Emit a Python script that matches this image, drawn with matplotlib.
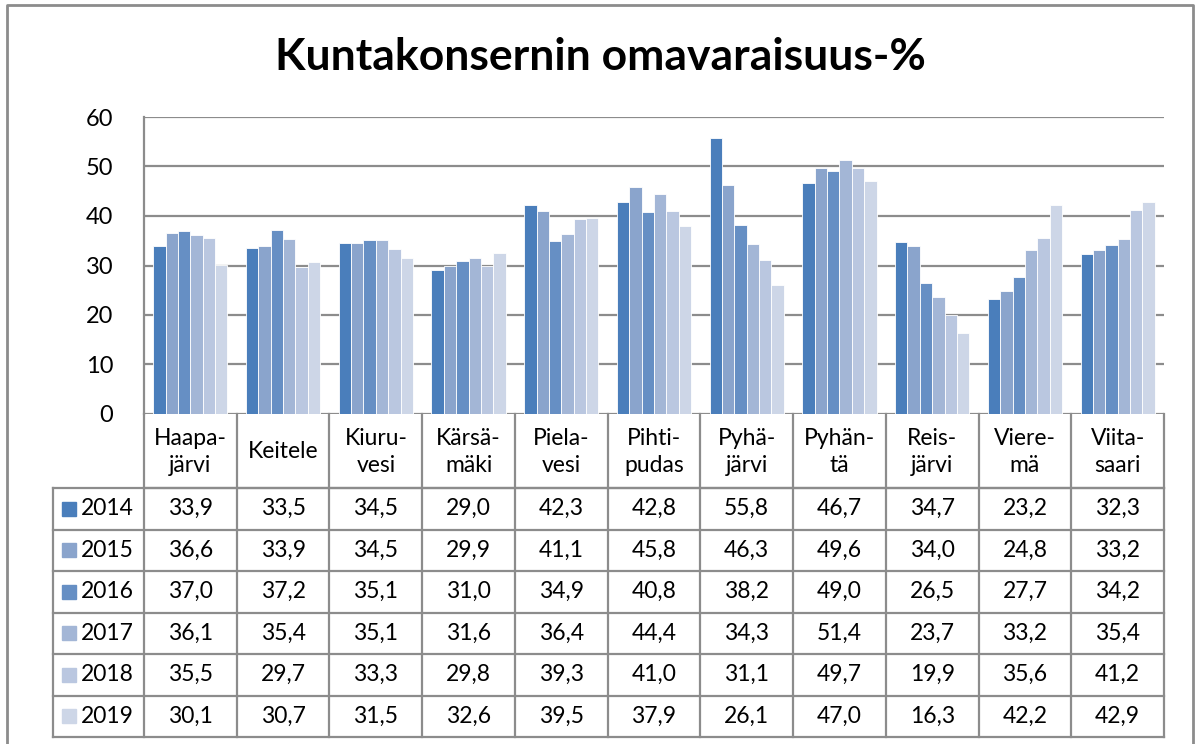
import matplotlib.pyplot as plt
import numpy as np

plt.rcParams['font.family'] = ['Lato', 'DejaVu Sans']

kunnat = ['Haapa-\njärvi', 'Keitele', 'Kiuru-\nvesi', 'Kärsä-\nmäki', 'Piela-\nvesi',
          'Pihti-\npudas', 'Pyhä-\njärvi', 'Pyhän-\ntä', 'Reis-\njärvi', 'Viere-\nmä',
          'Viita-\nsaari']
vuodet = ['2014', '2015', '2016', '2017', '2018', '2019']
v2014 = [33.9, 33.5, 34.5, 29.0, 42.3, 42.8, 55.8, 46.7, 34.7, 23.2, 32.3]
v2015 = [36.6, 33.9, 34.5, 29.9, 41.1, 45.8, 46.3, 49.6, 34.0, 24.8, 33.2]
v2016 = [37.0, 37.2, 35.1, 31.0, 34.9, 40.8, 38.2, 49.0, 26.5, 27.7, 34.2]
v2017 = [36.1, 35.4, 35.1, 31.6, 36.4, 44.4, 34.3, 51.4, 23.7, 33.2, 35.4]
v2018 = [35.5, 29.7, 33.3, 29.8, 39.3, 41.0, 31.1, 49.7, 19.9, 35.6, 41.2]
v2019 = [30.1, 30.7, 31.5, 32.6, 39.5, 37.9, 26.1, 47.0, 16.3, 42.2, 42.9]
sarjat = [v2014, v2015, v2016, v2017, v2018, v2019]
varit = ['#4a7ebb', '#8aa4cc', '#668fc4', '#a3b6d6', '#bac7e0', '#cdd6e7']

W, H = 1198, 744
line_c = '#8c8c8c'

fig = plt.figure(figsize=(W / 100, H / 100), dpi=100)

# pixel layout
x0, x1 = 144, 1164
ytop, ybot = 117, 414
hdr_bot = 488
tbl_bot = 737
tbl_left = 53

ax = fig.add_axes([x0 / W, 1 - ybot / H, (x1 - x0) / W, (ybot - ytop) / H])
n = len(kunnat)
x = np.arange(n)
bw = 0.8 / 6
for i, (vals, c) in enumerate(zip(sarjat, varit)):
    ax.bar(x + 0.1 + bw * (i + 0.5), vals, width=bw, color=c, edgecolor='white',
           linewidth=0.6, align='center', zorder=3)
ax.set_xlim(0, n)
ax.set_ylim(0, 60)
ax.set_yticks(range(0, 61, 10))
ax.set_yticklabels([str(t) for t in range(0, 61, 10)], fontsize=17)
ax.tick_params(axis='y', length=0, pad=22)
ax.set_xticks([])
ax.grid(axis='y', color=line_c, linewidth=1.6, zorder=0)
for s in ['top', 'right', 'bottom']:
    ax.spines[s].set_visible(False)
ax.spines['left'].set_color(line_c)
ax.spines['left'].set_linewidth(1.6)

# overlay in pixel coords for the data table
ov = fig.add_axes([0, 0, 1, 1])
ov.set_xlim(0, W)
ov.set_ylim(H, 0)
ov.axis('off')
ov.patch.set_alpha(0)

colw = (x1 - x0) / n
rowh = (tbl_bot - hdr_bot) / len(vuodet)
lw = 1.6
# outer chart border
ov.plot([7, 7, 1193, 1193], [H, 5, 5, H], color=line_c, lw=2)
# header row
ov.plot([x0, x1], [hdr_bot, hdr_bot], color=line_c, lw=lw)
for j in range(n + 1):
    ov.plot([x0 + j * colw] * 2, [ybot, tbl_bot], color=line_c, lw=lw)
for j, k in enumerate(kunnat):
    ov.text(x0 + (j + 0.5) * colw, (ybot + hdr_bot) / 2 + 1, k, ha='center', va='center',
            fontsize=16.5, linespacing=1.35)
# data rows
ov.plot([tbl_left, tbl_left], [hdr_bot, tbl_bot], color=line_c, lw=lw)
for r in range(len(vuodet) + 1):
    ov.plot([tbl_left, x1], [hdr_bot + r * rowh] * 2, color=line_c, lw=lw)
for r, (vuosi, vals, c) in enumerate(zip(vuodet, sarjat, varit)):
    yc = hdr_bot + (r + 0.5) * rowh
    ov.add_patch(plt.Rectangle((62, yc - 7), 14, 14, color=c))
    ov.text(81, yc, vuosi, ha='left', va='center', fontsize=16.5)
    for j, v in enumerate(vals):
        ov.text(x0 + (j + 0.5) * colw, yc, f'{v:.1f}'.replace('.', ','),
                ha='center', va='center', fontsize=16.5)

ov.text(600, 57, 'Kuntakonsernin omavaraisuus-%', ha='center', va='center',
        fontsize=32, fontweight='bold')

fig.savefig('out.png', dpi=100)
